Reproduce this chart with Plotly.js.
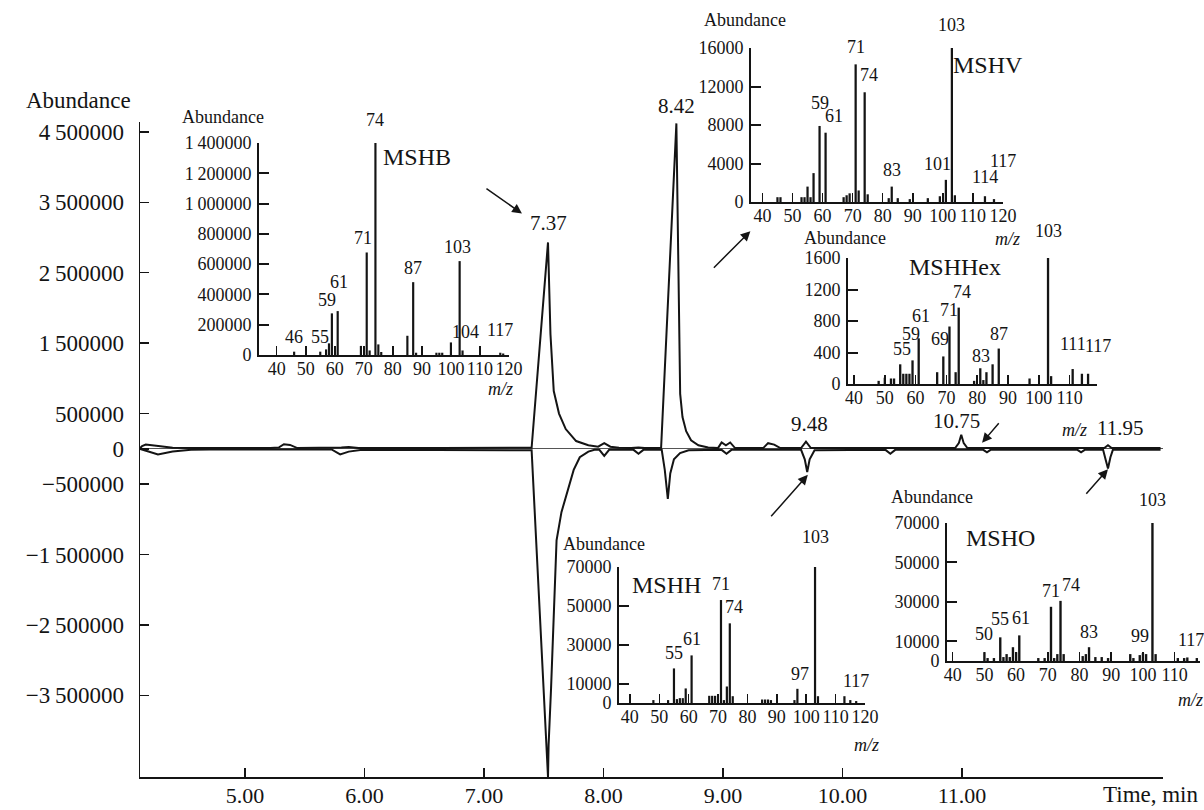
<!DOCTYPE html>
<html><head><meta charset="utf-8">
<script src="https://cdn.plot.ly/plotly-3.0.1.min.js"></script>
<style>html,body{margin:0;padding:0;background:#fff}</style>
</head><body><div id="chart" style="width:1204px;height:810px"></div>
<script>
// ---------------- DATA ----------------
// Total ion chromatogram (upper trace) and mirrored trace (lower), time in min, abundance
const upperTime = [4.03,4.05,4.08,4.12,4.2,4.3,4.5,5.1,5.17,5.21,5.26,5.32,5.6,5.68,5.74,5.82,6.5,7.2,7.236,7.37,7.39,7.417,7.46,7.515,7.6,7.7,7.78,7.83,7.88,7.95,8.05,8.11,8.16,8.25,8.295,8.42,8.451,8.47,8.5,8.54,8.6,8.68,8.76,8.79,8.825,8.86,8.9,9.13,9.17,9.22,9.27,9.44,9.48,9.52,10.13,10.17,10.21,10.7,10.73,10.75,10.77,10.8,11.92,11.95,11.98,12.38];
const upperAbund = [0,40000,60000,55000,35000,15000,10000,10000,20000,65000,55000,10000,10000,20000,25000,10000,10000,10000,15000,2930000,1630000,820000,500000,280000,110000,50000,30000,80000,30000,15000,10000,20000,10000,10000,15000,4620000,780000,450000,250000,120000,50000,20000,10000,90000,50000,90000,10000,10000,80000,60000,10000,10000,100000,10000,10000,20000,10000,10000,80000,200000,80000,10000,10000,50000,10000,10000];
const lowerTime = [4.03,4.08,4.18,4.3,4.45,4.6,5.6,5.67,5.74,5.85,7.2,7.236,7.37,7.375,7.395,7.41,7.425,7.44,7.48,7.53,7.58,7.63,7.7,7.75,7.79,7.83,7.87,8.07,8.11,8.15,8.3,8.325,8.35,8.37,8.4,8.45,8.52,8.79,8.83,8.87,9.44,9.47,9.49,9.51,9.55,10.13,10.17,10.21,10.93,10.96,10.99,11.7,11.73,11.76,11.91,11.93,11.95,11.97,11.99,12.38];
const lowerAbund = [0,-30000,-80000,-40000,-15000,-10000,-10000,-80000,-40000,-15000,-10000,-20000,-4660000,-4200000,-3400000,-2700000,-1900000,-1300000,-900000,-600000,-300000,-120000,-40000,-15000,-15000,-100000,-15000,-15000,-70000,-15000,-15000,-300000,-710000,-350000,-150000,-60000,-20000,-15000,-70000,-15000,-15000,-150000,-330000,-150000,-20000,-15000,-70000,-15000,-15000,-50000,-15000,-15000,-50000,-15000,-15000,-150000,-280000,-120000,-15000,-15000];

const peakTimes = [7.37, 8.42, 9.48, 10.75, 11.95];
const peakLabelAbund = [2930000, 4620000, 100000, 200000, 50000];

const mainYTicks = [4500000,3500000,2500000,1500000,500000,0,-500000,-1500000,-2500000,-3500000];
const mainYText = ['4\u2009500000','3\u2009500000','2\u2009500000','1\u2009500000','500000','0','\u2212500000','\u22121\u2009500000','\u22122\u2009500000','\u22123\u2009500000'];
const mainXLabels = [5,6,7,8,9,10,11];

// Mass spectra (m/z, abundance)
const mshbMz = [46,55,57,58,59,61,69,71,72,74,75,76,85,87,88,95,96,97,100,103,104,117,118];
const mshbAb = [22000,22000,37000,77000,275000,290000,60000,677000,30000,1430000,70000,20000,127000,481000,15000,15000,15000,15000,83000,620000,30000,15000,10000];
const mshbLabels = [46,55,59,61,71,74,87,103,104,117];
const mshbYTicks = [0,200000,400000,600000,800000,1000000,1200000,1400000];
const mshbYText = ['0','200000','400000','600000','800000','1\u2009000000','1\u2009200000','1\u2009400000'];

const mshvMz = [45,46,53,54,55,56,57,59,61,67,68,69,71,72,74,75,82,83,85,89,95,99,101,103,104,114,117];
const mshvAb = [500,500,500,500,1600,500,3000,7900,7200,500,700,900,14300,1200,11400,800,400,1600,400,300,400,600,2300,16600,700,600,300];
const mshvLabels = [59,61,71,74,83,101,103,114,117];
const mshvYTicks = [0,4000,8000,12000,16000];

const mshhexMz = [48,50,52,53,55,56,57,58,59,61,67,69,71,73,74,79,81,82,83,85,87,97,103,104,111,114,116];
const mshhexAb = [40,80,70,70,250,130,130,130,300,580,150,350,730,150,970,40,200,50,150,250,450,70,1760,100,190,130,130];
const mshhexLabels = [55,59,61,69,71,74,83,87,103,111,117];
const mshhexLabelBars = {117:116};
const mshhexYTicks = [0,400,800,1200,1600];

const mshhMz = [48,53,55,56,57,58,59,61,67,68,69,71,72,73,74,75,85,86,87,88,96,97,103,104,113,115,117];
const mshhAb = [1500,1500,17800,2000,2500,2500,7500,24500,3700,3700,3700,53000,1500,8500,41000,3500,1800,1800,1800,1500,1500,7300,77000,3500,3500,1500,1000];
const mshhLabels = [55,61,71,74,97,103,117];
const mshhYTicks = [0,10000,30000,50000,70000];

const mshoMz = [50,51,53,55,56,57,58,59,60,61,67,69,71,72,73,74,75,81,82,83,85,87,89,96,97,99,100,101,103,104,111,113,114,117];
const mshoAb = [4500,1500,1500,12000,2000,3500,2000,7000,4500,13000,1500,1500,27500,1500,3500,30500,3500,2500,3500,7000,2000,2000,1500,3500,1500,3000,4000,3500,74600,3500,1500,1500,1800,1500];
const mshoLabels = [50,55,61,71,74,83,99,103,117];
const mshoYTicks = [0,10000,30000,50000,70000];

const mzTicksFull = [40,50,60,70,80,90,100,110,120];
const mzTicksTo110 = [40,50,60,70,80,90,100,110];

// ---------------- STYLE / LAYOUT ----------------
const W = 1204, H = 810;
const FONT = 'Liberation Serif, Times New Roman, serif';
const INK = '#141414';
const px = (a,b) => [a/W, b/W];
const py = (top,bottom) => [1-bottom/H, 1-top/H];
const PX = v => v/W, PY = v => 1-v/H;

// The printed time scale of the original figure is slightly offset/compressed against the
// retention times of the peaks; reproduce that calibration for the tick positions.
const TICK_OFFSET = 4.8918, TICK_STEP = 0.97735;
const mainXTickVals = mainXLabels.map(k => TICK_OFFSET + (k-5)*TICK_STEP);
const mainXTickText = mainXLabels.map(k => k.toFixed(2));

const insets = [
  {name:'MSHB', mz:mshbMz, ab:mshbAb, labels:mshbLabels, bars:{}, xdom:px(259,509), ydom:py(143,355), xr:[33.9,120], yr:[0,1400000],
   xt:mzTicksFull, yt:mshbYTicks, ytext:mshbYText,
   shifts:{46:[0,3],55:[0,3],59:[-5,1],61:[1,17],71:[-4,2],74:[0,6],87:[0,2],103:[-2,2],104:[3,6],117:[0,11]},
   title:[417,157], abund:[223,117], mzlab:[500,389]},
  {name:'MSHV', mz:mshvMz, ab:mshvAb, labels:mshvLabels, bars:{}, xdom:px(751,1003), ydom:py(48,202), xr:[36.2,120], yr:[0,16000],
   xt:mzTicksFull, yt:mshvYTicks, ytext:null,
   shifts:{59:[0,11],61:[8,5],71:[0,5],74:[4,5],83:[0,5],101:[-8,4],103:[0,5],114:[0,7],117:[9,26]},
   title:[988,65], abund:[745,20], mzlab:[1007,239]},
  {name:'MSHHex', mz:mshhexMz, ab:mshhexAb, labels:mshhexLabels, bars:mshhexLabelBars, xdom:px(848,1097), ydom:py(258,384), xr:[38.05,118.9], yr:[0,1600],
   xt:mzTicksTo110, yt:mshhexYTicks, ytext:null,
   shifts:{55:[2,3],59:[-2,14],61:[2,10],69:[-3,5],71:[0,5],74:[3,4],83:[-5,4],87:[0,3],103:[0,2],111:[0,13],117:[10,16]},
   title:[955,267], abund:[845,238], mzlab:[1074,430]},
  {name:'MSHH', mz:mshhMz, ab:mshhAb, labels:mshhLabels, bars:{}, xdom:px(619,865), ydom:py(567,703), xr:[36.3,120], yr:[0,70000],
   xt:mzTicksFull, yt:mshhYTicks, ytext:null,
   shifts:{55:[0,3],61:[0,4],71:[0,4],74:[4,4],97:[3,3],103:[0,4],117:[0,8]},
   title:[666,585], abund:[604,544], mzlab:[866,745]},
  {name:'MSHO', mz:mshoMz, ab:mshoAb, labels:mshoLabels, bars:{}, xdom:px(947,1200), ydom:py(523,661), xr:[38.2,118], yr:[0,70000],
   xt:mzTicksTo110, yt:mshoYTicks, ytext:null,
   shifts:{50:[0,6],55:[0,6],61:[2,5],71:[0,4],74:[10,4],83:[0,3],99:[0,7],103:[0,2],117:[-6,6]},
   title:[1000,538], abund:[932,497], mzlab:[1190,700]}
];

const traces = [
  {x:upperTime, y:upperAbund, xaxis:'x', yaxis:'y', type:'scatter', mode:'lines', line:{color:INK, width:2}, hoverinfo:'skip'},
  {x:lowerTime, y:lowerAbund, xaxis:'x', yaxis:'y', type:'scatter', mode:'lines', line:{color:INK, width:2}, hoverinfo:'skip'}
];

const layout = {
  width:W, height:H, margin:{l:0,r:0,t:0,b:0}, showlegend:false,
  paper_bgcolor:'#fff', plot_bgcolor:'rgba(0,0,0,0)',
  font:{family:FONT, color:INK},
  xaxis:{domain:px(140,1163), range:[4.033,12.4], anchor:'y', showline:true, linecolor:INK, linewidth:1.5,
         ticks:'inside', ticklen:9, tickwidth:1.5, tickcolor:INK, tickvals:mainXTickVals, ticktext:mainXTickText,
         tickfont:{family:FONT,size:22,color:INK}, ticklabelstandoff:-2, showgrid:false, zeroline:false, fixedrange:true},
  yaxis:{domain:py(122,777), range:[-4660000,4640000], anchor:'x', showline:true, linecolor:INK, linewidth:1.5,
         ticks:'inside', ticklen:9, tickwidth:1.5, tickcolor:INK, tickvals:mainYTicks, ticktext:mainYText,
         tickfont:{family:FONT,size:23,color:INK}, ticklabelstandoff:10, showgrid:false,
         zeroline:true, zerolinecolor:'#555', zerolinewidth:1, fixedrange:true},
  annotations:[]
};
const ann = layout.annotations;

// main chart texts
ann.push({xref:'paper', yref:'paper', x:PX(78), y:PY(101), text:'Abundance', showarrow:false, xanchor:'center', yanchor:'middle', font:{family:FONT,size:23,color:INK}});
ann.push({xref:'paper', yref:'paper', x:PX(1201), y:PY(794), text:'Time, min', showarrow:false, xanchor:'right', yanchor:'middle', font:{family:FONT,size:23,color:INK}});
const peakShift = [[0,5],[0,3],[4,4],[-5,0],[12,3]];
peakTimes.forEach((t,i) => {
  ann.push({xref:'x', yref:'y', x:t, y:peakLabelAbund[i], text:t.toFixed(2), showarrow:false, xanchor:'center', yanchor:'bottom',
            xshift:peakShift[i][0], yshift:peakShift[i][1], font:{family:FONT,size:21,color:INK}});
});
// arrows (head at data point, tail offset in px)
const arrows = [
  {x:7.157, y:3340000, ax:-37, ay:-26},
  {x:9.025, y:3090000, ax:-38, ay:38},
  {x:10.92, y:85000, ax:18, ay:-21},
  {x:9.495, y:-370000, ax:-38, ay:43},
  {x:11.95, y:-290000, ax:-23, ay:26}
];
arrows.forEach(a => ann.push({xref:'x', yref:'y', x:a.x, y:a.y, ax:a.ax, ay:a.ay, text:'', showarrow:true,
  arrowhead:2, arrowsize:1.3, arrowwidth:1.5, arrowcolor:INK}));

// insets
insets.forEach((s,i) => {
  const n = i+2, xa = 'x'+n, ya = 'y'+n;
  traces.push({x:s.mz, y:s.ab, type:'bar', xaxis:xa, yaxis:ya, width:0.75, marker:{color:INK, line:{width:0}}, cliponaxis:false, hoverinfo:'skip'});
  layout['xaxis'+n] = {domain:s.xdom, range:s.xr, anchor:ya, showline:true, linecolor:INK, linewidth:2,
    ticks:'inside', ticklen:9, tickwidth:1.5, tickcolor:INK, tickvals:s.xt, ticktext:s.xt.map(String),
    tickfont:{family:FONT,size:18,color:INK}, ticklabelstandoff:-4, showgrid:false, zeroline:false, fixedrange:true};
  layout['yaxis'+n] = {domain:s.ydom, range:s.yr, anchor:xa, showline:true, linecolor:INK, linewidth:2,
    ticks:'inside', ticklen:10, tickwidth:2, tickcolor:INK, tickvals:s.yt, ticktext:(s.ytext||s.yt.map(String)),
    tickfont:{family:FONT,size:18,color:INK}, ticklabelstandoff:2, showgrid:false, zeroline:false, fixedrange:true};
  const domPx = (s.ydom[1]-s.ydom[0])*H;
  const yTop = s.yr[1]*0.999;
  s.labels.forEach(m => {
    const barMz = s.bars[m] !== undefined ? s.bars[m] : m;
    const k = s.mz.indexOf(barMz);
    const v = s.ab[k];
    const yAnchor = Math.min(v, yTop);
    const extra = (v - yAnchor)/(s.yr[1]-s.yr[0])*domPx;
    const sh = s.shifts[m] || [0,3];
    ann.push({xref:xa, yref:ya, x:barMz, y:yAnchor, text:String(m), showarrow:false, xanchor:'center', yanchor:'bottom',
              xshift:sh[0], yshift:sh[1]+extra, font:{family:FONT,size:18,color:INK}});
  });
  ann.push({xref:'paper', yref:'paper', x:PX(s.title[0]), y:PY(s.title[1]), text:s.name, showarrow:false, xanchor:'center', yanchor:'middle', font:{family:FONT,size:24,color:INK}});
  ann.push({xref:'paper', yref:'paper', x:PX(s.abund[0]), y:PY(s.abund[1]), text:'Abundance', showarrow:false, xanchor:'center', yanchor:'middle', font:{family:FONT,size:18,color:INK}});
  ann.push({xref:'paper', yref:'paper', x:PX(s.mzlab[0]), y:PY(s.mzlab[1]), text:'<i>m/z</i>', showarrow:false, xanchor:'center', yanchor:'middle', font:{family:FONT,size:18,color:INK}});
});

Plotly.newPlot('chart', traces, layout, {displayModeBar:false, staticPlot:true});
</script></body></html>
